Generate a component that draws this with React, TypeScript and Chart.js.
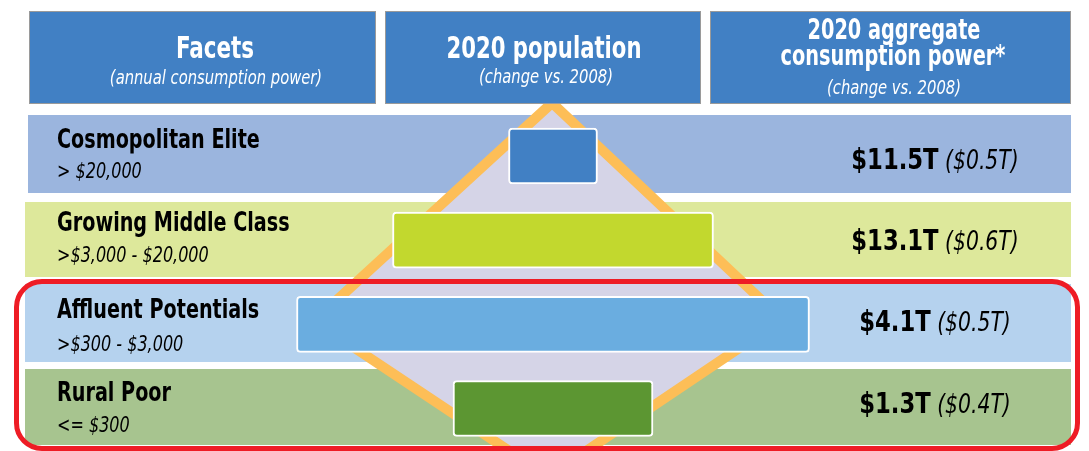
import React, { useEffect, useRef } from "react";
import { Chart, registerables } from "chart.js";

Chart.register(...registerables);

// ---------- data ----------
const facets = ["Cosmopolitan Elite", "Growing Middle Class", "Affluent Potentials", "Rural Poor"];
const incomeRanges = ["> $20,000", ">$3,000 - $20,000", ">$300 - $3,000", "<= $300"];
// 2020 population (relative index)
const population = [44.5, 160.5, 256.5, 100];
const consumptionPower = ["$11.5T", "$13.1T", "$4.1T", "$1.3T"];
const consumptionChange = ["($0.5T)", "($0.6T)", "($0.5T)", "($0.4T)"];

const headerTitles = ["Facets", "2020 population", "2020 aggregate\nconsumption power*"];
const headerSubtitles = ["(annual consumption power)", "(change vs. 2008)", "(change vs. 2008)"];

// decorative diamond behind the population bars (x: population units, y: row index)
const diamondUpper = [
  { x: -119.5, y: 1.96 },
  { x: -0.5, y: -0.63 },
  { x: 114.5, y: 1.94 },
];
const diamondLower = [
  { x: -119.5, y: 1.96 },
  { x: -2.5, y: 3.81 },
  { x: 114.5, y: 1.94 },
];

// ---------- styles ----------
const barColors = ["#4180C4", "#C2D82E", "#6AADE0", "#5C9632"];
const rowColors = ["#9BB5DE", "#DDE89B", "#B5D2EE", "#A7C48F"];
const HEADER_BLUE = "#4180C4";
const FONT = '"Liberation Sans Narrow", "DejaVu Sans Condensed", "Arial Narrow", sans-serif';

const W = 1089;
const H = 451;

const rowBoxes = [
  { left: 28, top: 115, bottom: 193 },
  { left: 25, top: 202, bottom: 277 },
  { left: 25, top: 284, bottom: 362 },
  { left: 25, top: 369, bottom: 445 },
];
const headerBoxes = [
  { left: 29, right: 376 },
  { left: 385, right: 701 },
  { left: 710, right: 1071 },
];

type TxtProps = {
  x: number;
  y: number;
  text: string;
  size: number;
  bold?: boolean;
  italic?: boolean;
  color?: string;
  align?: "left" | "center";
  sx?: number;
};

function Txt({ x, y, text, size, bold, italic, color = "#000", align = "left", sx = 1 }: TxtProps) {
  const tx = align === "center" ? "-50%" : "0";
  return (
    <div
      style={{
        position: "absolute",
        left: x,
        top: y,
        transform: `translate(${tx}, -50%) scaleX(${sx})`,
        transformOrigin: align === "center" ? "center center" : "left center",
        fontFamily: FONT,
        fontStretch: "condensed",
        fontSize: size,
        fontWeight: bold ? 700 : 400,
        fontStyle: italic ? "italic" : "normal",
        color,
        lineHeight: 1,
        whiteSpace: "nowrap",
        zIndex: 5,
      }}
    >
      {text}
    </div>
  );
}

function DiamondBars() {
  const ref = useRef<HTMLCanvasElement | null>(null);
  useEffect(() => {
    if (!ref.current) return;
    const chart = new Chart(ref.current, {
      data: {
        datasets: [
          {
            type: "bar",
            indexAxis: "y",
            data: population.map((v, i) => ({ x: [-v / 2, v / 2], y: i })) as any,
            backgroundColor: barColors,
            borderColor: "#FFFFFF",
            borderWidth: 2,
            borderRadius: 4,
            borderSkipped: false,
            barThickness: 56,
            order: 0,
          } as any,
          {
            type: "line",
            data: diamondUpper,
            borderColor: "#FDBE57",
            borderWidth: 10,
            backgroundColor: "#D5D4E7",
            fill: "+1",
            pointRadius: 0,
            tension: 0,
            borderJoinStyle: "miter",
            order: 2,
          } as any,
          {
            type: "line",
            data: diamondLower,
            borderColor: "#FDBE57",
            borderWidth: 10,
            fill: false,
            pointRadius: 0,
            tension: 0,
            borderJoinStyle: "miter",
            order: 1,
          } as any,
        ],
      },
      options: {
        responsive: false,
        animation: false,
        events: [],
        layout: { padding: 0 },
        plugins: {
          legend: { display: false },
          tooltip: { enabled: false },
          title: { display: false },
        },
        scales: {
          x: { type: "linear", min: -276.5, max: 268, display: false, offset: false },
          y: { type: "linear", min: -1.853, max: 3.505, reverse: true, display: false, offset: false },
        },
      },
    });
    return () => chart.destroy();
  }, []);
  return (
    <canvas
      ref={ref}
      width={W}
      height={H}
      style={{ position: "absolute", left: 0, top: 0, width: W, height: H, zIndex: 2 }}
    />
  );
}

export default function App() {
  const valueY = [159, 240, 321, 403];
  const labelY = [138, 221, 308, 391];
  const rangeY = [171, 255, 344, 425];
  return (
    <div
      style={{
        position: "absolute",
        left: 0,
        top: 0,
        width: W,
        height: H,
        background: "#FFFFFF",
        overflow: "hidden",
      }}
    >
      {rowBoxes.map((r, i) => (
        <div
          key={"row" + i}
          style={{
            position: "absolute",
            left: r.left,
            top: r.top,
            width: 1071 - r.left,
            height: r.bottom - r.top,
            background: rowColors[i],
            zIndex: 1,
          }}
        />
      ))}
      <DiamondBars />
      {headerBoxes.map((b, i) => (
        <div
          key={"hdr" + i}
          style={{
            position: "absolute",
            left: b.left,
            top: 11,
            width: b.right - b.left,
            height: 93,
            boxSizing: "border-box",
            background: HEADER_BLUE,
            border: "1.5px solid #9A9A9A",
            zIndex: 4,
          }}
        />
      ))}
      <Txt x={215} y={47} text={headerTitles[0]} size={31} bold color="#FFF" align="center" sx={0.77} />
      <Txt x={216} y={77} text={headerSubtitles[0]} size={20} italic color="#FFF" align="center" sx={0.82} />
      <Txt x={544} y={47} text={headerTitles[1]} size={31} bold color="#FFF" align="center" sx={0.76} />
      <Txt x={546} y={76} text={headerSubtitles[1]} size={20} italic color="#FFF" align="center" sx={0.82} />
      <Txt x={894} y={29} text={headerTitles[2].split("\n")[0]} size={29} bold color="#FFF" align="center" sx={0.74} />
      <Txt x={893} y={55} text={headerTitles[2].split("\n")[1]} size={29} bold color="#FFF" align="center" sx={0.74} />
      <Txt x={894} y={87} text={headerSubtitles[2]} size={20} italic color="#FFF" align="center" sx={0.82} />

      {facets.map((f, i) => (
        <Txt key={"f" + i} x={57} y={labelY[i]} text={f} size={27} bold sx={0.79} />
      ))}
      {incomeRanges.map((f, i) => (
        <Txt key={"r" + i} x={57} y={rangeY[i]} text={f} size={22} italic sx={0.81} />
      ))}
      {consumptionPower.map((v, i) => (
        <div
          key={"v" + i}
          style={{
            position: "absolute",
            left: 935,
            top: valueY[i],
            transform: "translate(-50%, -50%) scaleX(0.87)",
            fontFamily: FONT,
            fontStretch: "condensed",
            lineHeight: 1,
            whiteSpace: "nowrap",
            zIndex: 5,
            color: "#000",
          }}
        >
          <span style={{ fontWeight: 700, fontSize: 29 }}>{v}</span>
          <span style={{ fontStyle: "italic", fontSize: 26 }}> {consumptionChange[i]}</span>
        </div>
      ))}
      <div
        style={{
          position: "absolute",
          left: 14,
          top: 279,
          width: 1066,
          height: 172,
          boxSizing: "border-box",
          border: "5px solid #EE1C25",
          borderRadius: 28,
          zIndex: 6,
        }}
      />
    </div>
  );
}
